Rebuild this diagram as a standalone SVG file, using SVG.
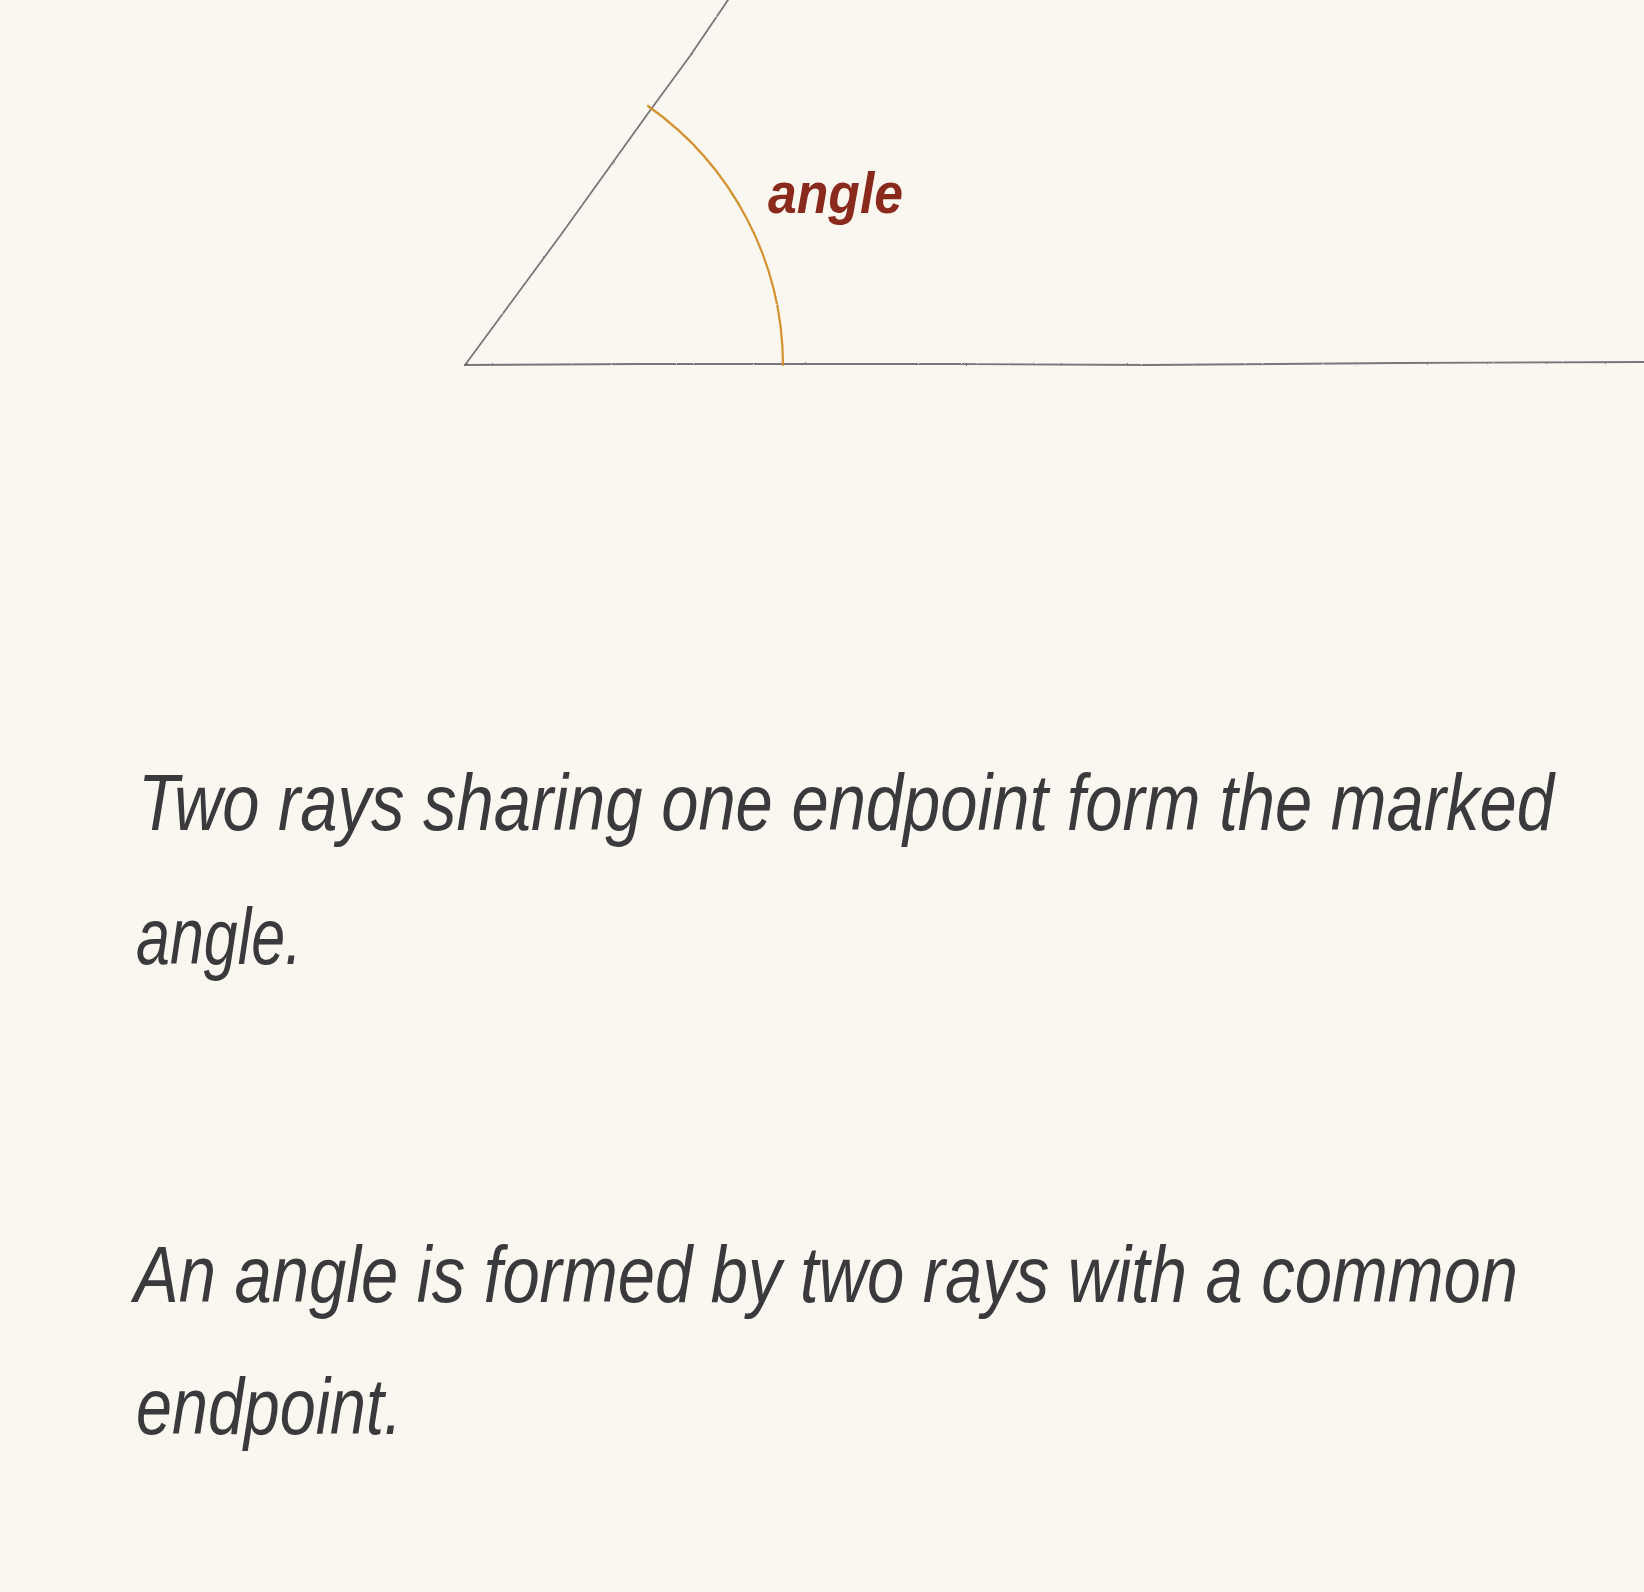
<svg xmlns="http://www.w3.org/2000/svg" width="1644" height="1592" viewBox="0 0 1644 1592">
  <style>
    .ray { fill: none; stroke: #5f5f66; stroke-width: 1.8; stroke-linecap: round; opacity: 0.85; }
    .arc { fill: none; stroke: #d39230; stroke-width: 2.2; stroke-linecap: round; }
    .label { font-family: "Liberation Sans", "DejaVu Sans", sans-serif; font-style: italic; font-weight: bold; fill: #8a2a1c; }
    .body { font-family: "Liberation Sans", "DejaVu Sans", sans-serif; font-style: italic; font-size: 66px; fill: #3a393c; }
  </style>
  <defs>
    <filter id="pencil" x="-5%" y="-5%" width="110%" height="110%">
      <feTurbulence type="fractalNoise" baseFrequency="0.9" numOctaves="2" seed="3" result="n"/>
      <feDisplacementMap in="SourceGraphic" in2="n" scale="1.6" xChannelSelector="R" yChannelSelector="G"/>
    </filter>
  </defs>
  <rect width="1644" height="1592" fill="#faf7f0"/>

  <g id="figure" filter="url(#pencil)">
    <g id="rays">
      <path class="ray" d="M465,365 L560,236 L649,112 L690,56 L728,0"/>
      <path class="ray" d="M465,365 L640,364 L783,364 L960,364 L1150,365 L1400,363 L1644,362"/>
    </g>
    <g id="angle-arc">
      <path class="arc" d="M648,106 A318,318 0 0 1 783,365"/>
    </g>
  </g>

  <g id="angle-label">
    <text class="label" x="768" y="213" font-size="58" textLength="135" lengthAdjust="spacingAndGlyphs">angle</text>
  </g>

  <g id="caption-1">
    <text class="body" transform="translate(138,830) scale(1,1.2)" textLength="1416" lengthAdjust="spacingAndGlyphs">Two rays sharing one endpoint form the marked</text>
    <text class="body" transform="translate(136,964) scale(1,1.2)" textLength="166" lengthAdjust="spacingAndGlyphs">angle.</text>
  </g>

  <g id="caption-2">
    <text class="body" transform="translate(134,1302) scale(1,1.2)" textLength="1384" lengthAdjust="spacingAndGlyphs">An angle is formed by two rays with a common</text>
    <text class="body" transform="translate(136,1434) scale(1,1.2)" textLength="266" lengthAdjust="spacingAndGlyphs">endpoint.</text>
  </g>
</svg>
